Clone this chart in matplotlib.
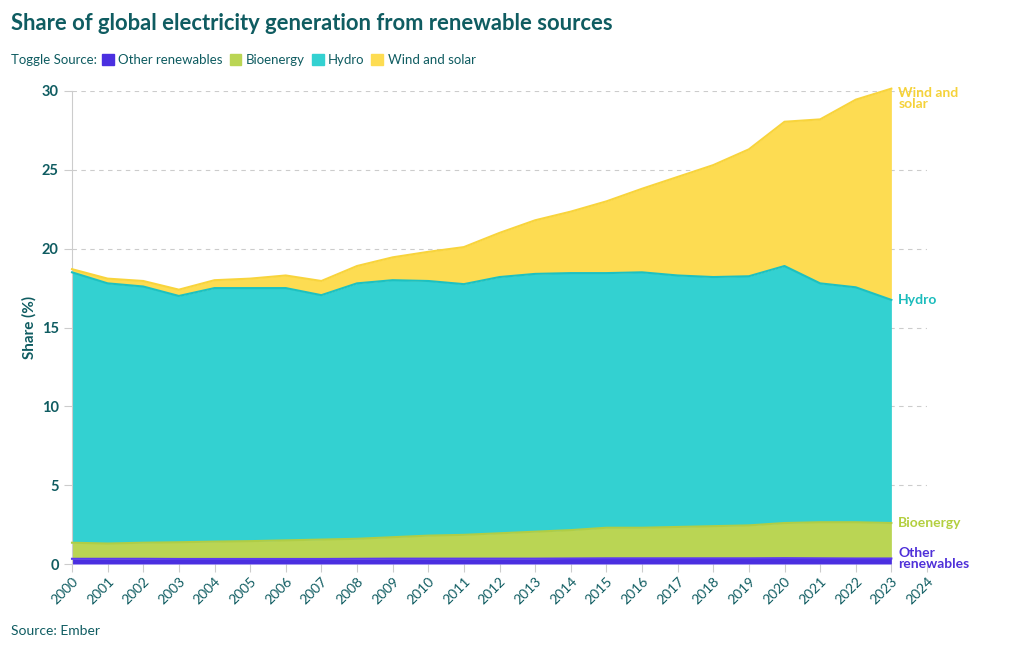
import numpy as np
import matplotlib.pyplot as plt
from matplotlib.patches import Patch

years = list(range(2000, 2024))
other = [0.33, 0.33, 0.33, 0.32, 0.32, 0.32, 0.32, 0.32, 0.33, 0.34, 0.34, 0.34,
         0.34, 0.34, 0.35, 0.36, 0.36, 0.36, 0.36, 0.36, 0.37, 0.36, 0.35, 0.35]
bioenergy = [1.02, 0.97, 1.02, 1.06, 1.10, 1.13, 1.18, 1.23, 1.27, 1.36, 1.46, 1.51,
             1.61, 1.71, 1.80, 1.94, 1.94, 1.99, 2.04, 2.09, 2.23, 2.29, 2.30, 2.25]
hydro = [17.15, 16.5, 16.25, 15.62, 16.08, 16.05, 16.0, 15.5, 16.2, 16.3, 16.15, 15.9,
         16.25, 16.35, 16.3, 16.15, 16.2, 15.95, 15.8, 15.8, 16.3, 15.15, 14.9, 14.15]
wind_solar = [0.2, 0.3, 0.35, 0.4, 0.5, 0.6, 0.8, 0.9, 1.1, 1.45, 1.85, 2.35,
              2.8, 3.4, 3.9, 4.55, 5.3, 6.25, 7.1, 8.05, 9.15, 10.4, 11.9, 13.4]

names = ['Other renewables', 'Bioenergy', 'Hydro', 'Wind and solar']
end_labels = ['Other\nrenewables', 'Bioenergy', 'Hydro', 'Wind and\nsolar']
fill_colors = ['#4a2fe0', '#bad554', '#33d1d1', '#fddc52']
line_colors = ['#5b3cf0', '#b0cd45', '#1cc1c1', '#f8d43c']
label_colors = ['#4f30d9', '#b3cf3f', '#1bbcbc', '#f5d23a']
text_color = '#0f5c61'

plt.rcParams['font.family'] = ['Lato', 'DejaVu Sans']

fig = plt.figure(figsize=(10.2, 6.5), dpi=100)
ax = fig.add_axes([72 / 1020, 1 - 564 / 650, (927 - 72) / 1020, (564 - 91) / 650])

series = [other, bioenergy, hydro, wind_solar]
base = np.zeros(len(years))
for vals, fc, lc in zip(series, fill_colors, line_colors):
    top = base + np.array(vals)
    ax.fill_between(years, base, top, color=fc, linewidth=0, clip_on=False, zorder=2)
    ax.plot(years, top, color=lc, linewidth=1.5, clip_on=False, zorder=3)
    base = top

# labels at the end of each stack
cum = np.cumsum([s[-1] for s in series])
offsets = [0, 0, 0, -7]
for lab, c, yv, dy in zip(end_labels, label_colors, cum, offsets):
    ax.annotate(lab, xy=(years[-1], yv), xytext=(5, dy), textcoords='offset points',
                color=c, fontsize=10, fontweight='bold', va='center', ha='left',
                linespacing=0.95, annotation_clip=False)

ax.set_xlim(2000, 2024)
ax.set_ylim(0, 30)
ax.set_yticks([0, 5, 10, 15, 20, 25, 30])
ax.set_xticks(list(range(2000, 2025)))
ax.set_xticklabels([str(y) for y in range(2000, 2025)], rotation=45, ha='right',
                   rotation_mode='anchor', color=text_color, fontsize=10)
for t in ax.get_yticklabels():
    t.set_fontweight('bold')
    t.set_color(text_color)
    t.set_fontsize(10.5)
ax.tick_params(axis='both', color='#cccccc', length=6)
ax.tick_params(axis='x', pad=2)

ax.grid(axis='y', linestyle=(0, (4, 4)), color='#cccccc', linewidth=0.8, zorder=0)
ax.set_axisbelow(True)
for s in ['top', 'right', 'bottom']:
    ax.spines[s].set_visible(False)
ax.spines['left'].set_color('#cccccc')

ax.set_ylabel('Share (%)', color=text_color, fontweight='bold', fontsize=11, labelpad=4)

fig.text(11 / 1020, 1 - 23 / 650, 'Share of global electricity generation from renewable sources',
         fontsize=15.8, fontweight='bold', color=text_color, va='center', ha='left')
fig.text(11 / 1020, 1 - 60 / 650, 'Toggle Source:', fontsize=9.5, color=text_color,
         va='center', ha='left')
handles = [Patch(facecolor=c, edgecolor=c) for c in fill_colors]
leg = fig.legend(handles, names, loc='center left', bbox_to_anchor=(102 / 1020, 1 - 60 / 650),
                 ncol=4, frameon=False, fontsize=9.5, handlelength=0.9, handleheight=0.9,
                 handletextpad=0.35, columnspacing=0.5, borderaxespad=0, borderpad=0)
for t in leg.get_texts():
    t.set_color(text_color)

fig.text(11 / 1020, 1 - 631 / 650, 'Source: Ember', fontsize=10, color=text_color,
         va='center', ha='left')

fig.savefig('out.png', dpi=100)
